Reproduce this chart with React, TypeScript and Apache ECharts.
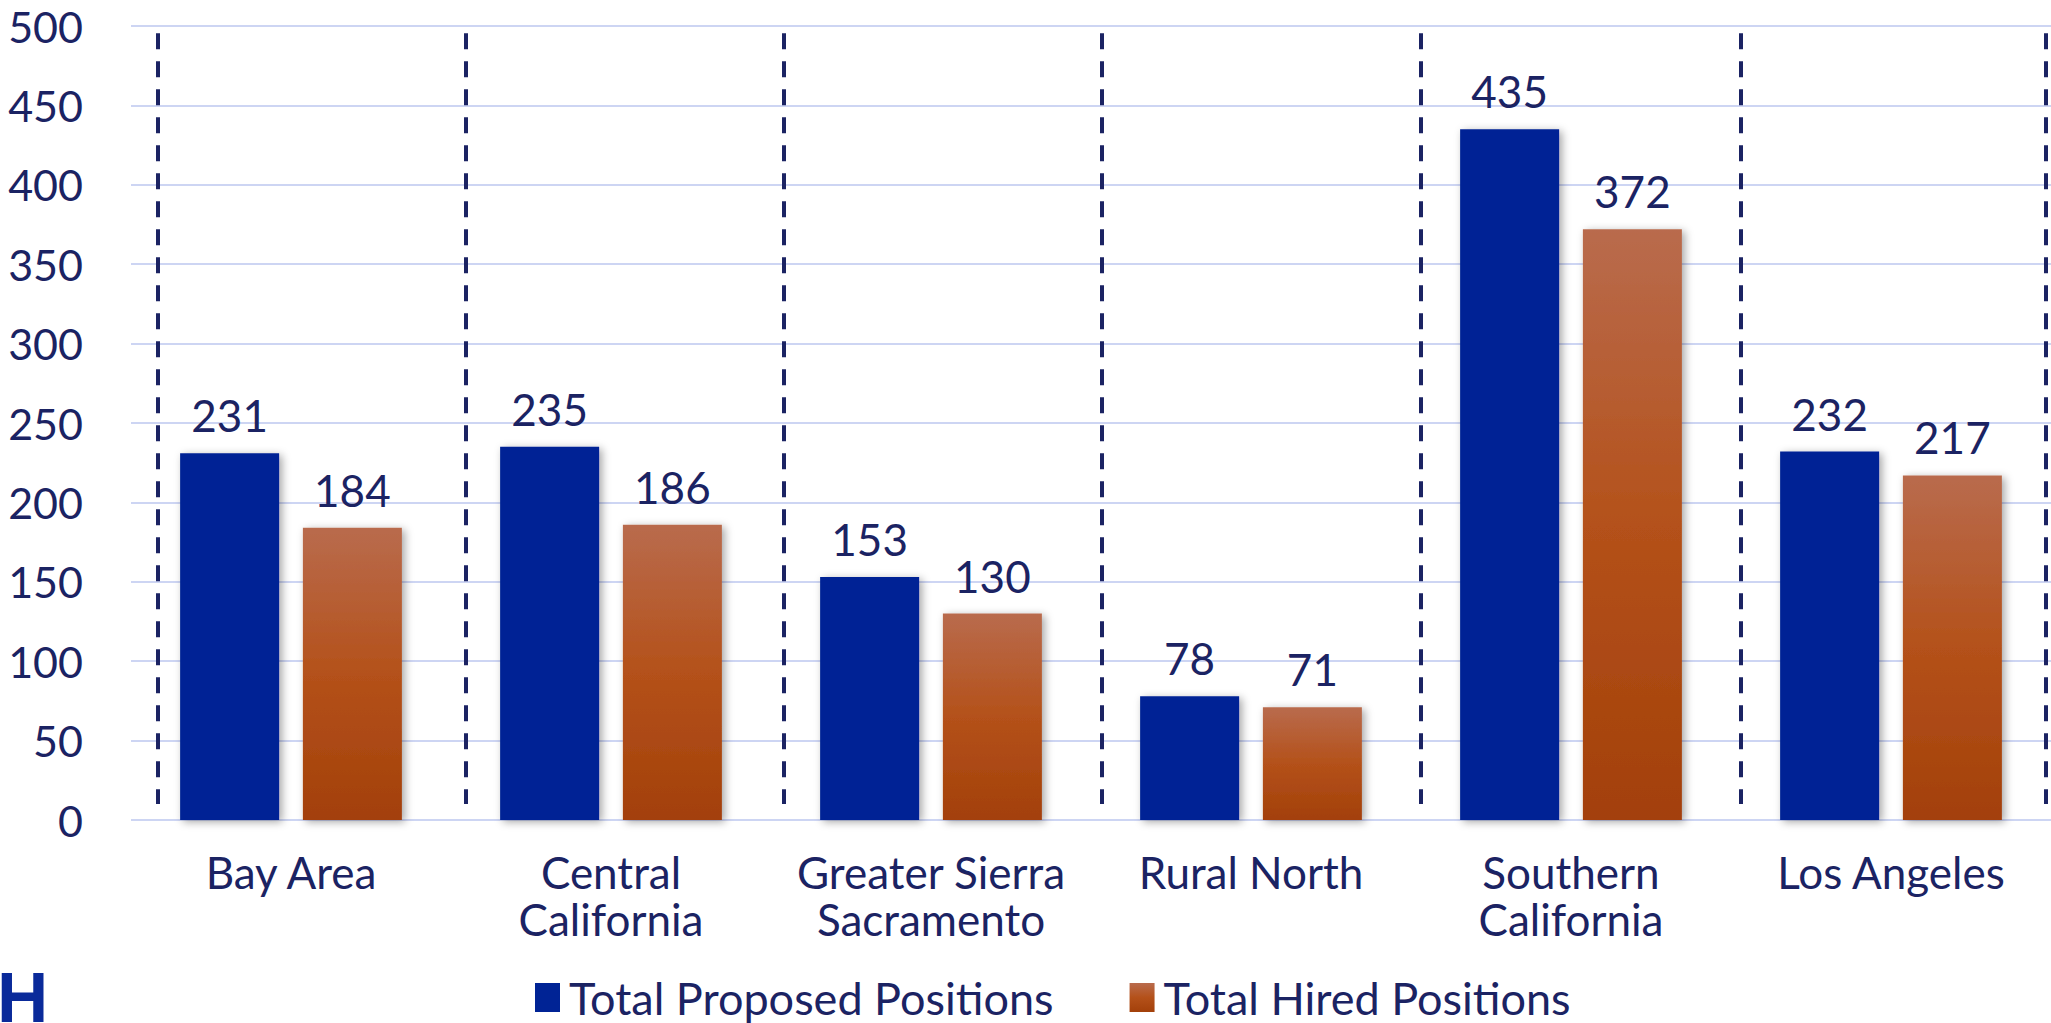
import React, { useEffect, useRef } from "react";
import * as echarts from "echarts";

const categories = [
  "Bay Area",
  "Central\nCalifornia",
  "Greater Sierra\nSacramento",
  "Rural North",
  "Southern\nCalifornia",
  "Los Angeles",
];
const proposed = [231, 235, 153, 78, 435, 232];
const hired = [184, 186, 130, 71, 372, 217];
const seriesNames = ["Total Proposed Positions", "Total Hired Positions"];
const yTicks = { min: 0, max: 500, interval: 50 };
// separator positions in category units (0 = left edge of first category)
const separators = [0.085, 1.045, 2.04, 3.035, 4.03, 5.03, 5.985];
const separatorSpan = [495.5, 10];

const NAVY = "#1b2363";
const GRID = "#cdd5f3";
const FONT = "Lato";

export default function App() {
  const ref = useRef<HTMLDivElement>(null);
  useEffect(() => {
    if (!ref.current) return;
    const chart = echarts.init(ref.current, undefined, { renderer: "svg" });
    const shadow = {
      shadowBlur: 8,
      shadowOffsetX: 3,
      shadowOffsetY: 2,
      shadowColor: "rgba(0,0,0,0.35)",
    };
    const orange = new echarts.graphic.LinearGradient(0, 0, 0, 1, [
      { offset: 0, color: "#b96b4d" },
      { offset: 0.5, color: "#b4511a" },
      { offset: 1, color: "#a3400a" },
    ]);
    const label = {
      show: true,
      position: "top" as const,
      distance: 16,
      color: NAVY,
      fontFamily: FONT,
      fontSize: 44,
    };
    chart.setOption({
      animation: false,
      backgroundColor: "#ffffff",
      grid: { left: 131, right: -3, top: 26, bottom: 1023 - 820, containLabel: false },
      legend: {
        left: 530,
        top: 970,
        itemWidth: 25,
        itemHeight: 29,
        itemGap: 76,
        icon: "rect",
        textStyle: { color: NAVY, fontFamily: FONT, fontSize: 45, padding: [0, 0, 0, 4] },
        data: seriesNames,
      },
      xAxis: [
        {
          type: "category",
          data: categories,
          axisLine: { show: false },
          axisTick: { show: false },
          axisLabel: {
            interval: 0,
            color: NAVY,
            fontFamily: FONT,
            fontSize: 44,
            lineHeight: 47,
            margin: 28,
          },
        },
        { type: "value", min: 0, max: 6, show: false },
      ],
      yAxis: {
        type: "value",
        min: yTicks.min,
        max: yTicks.max,
        interval: yTicks.interval,
        axisLine: { show: false },
        axisTick: { show: false },
        splitLine: { lineStyle: { color: GRID, width: 2 } },
        axisLabel: { color: NAVY, fontFamily: FONT, fontSize: 43, margin: 48 },
      },
      series: [
        {
          name: seriesNames[0],
          type: "bar",
          data: proposed,
          barWidth: 99,
          barGap: "24%",
          itemStyle: { color: "#002395", ...shadow },
          label,
        },
        {
          name: seriesNames[1],
          type: "bar",
          data: hired,
          barWidth: 99,
          itemStyle: { color: orange, ...shadow },
          label,
        },
        {
          type: "scatter",
          xAxisIndex: 1,
          yAxisIndex: 0,
          data: [],
          silent: true,
          markLine: {
            silent: true,
            symbol: ["none", "none"],
            label: { show: false },
            lineStyle: { color: NAVY, width: 4, type: [16, 12] },
            data: separators.map((x) => [
              { coord: [x, separatorSpan[0]] },
              { coord: [x, separatorSpan[1]] },
            ]),
          },
        },
      ],
      graphic: [
        {
          type: "text",
          left: -3,
          top: 962,
          style: {
            text: "H",
            fill: "#0a2a9a",
            font: "bold 71px 'Liberation Sans', Arial, sans-serif",
          },
        },
      ],
    });
    return () => chart.dispose();
  }, []);
  return (
    <div
      ref={ref}
      style={{ position: "absolute", left: 0, top: 0, width: 2051, height: 1023, overflow: "hidden" }}
    />
  );
}
